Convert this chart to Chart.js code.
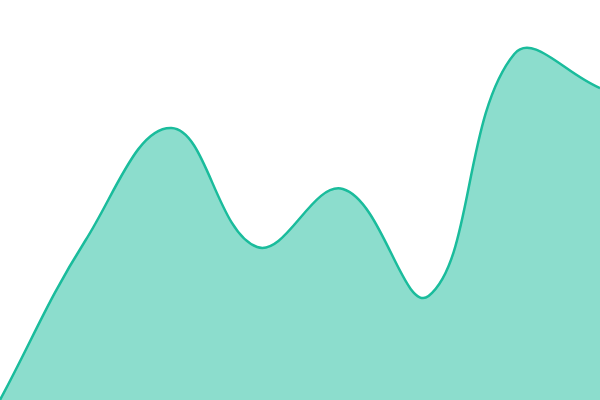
<!DOCTYPE html>
<html>
<head>
<meta charset="utf-8">
<script src="https://cdn.jsdelivr.net/npm/chart.js@4"></script>
<style>
  html, body { margin: 0; padding: 0; background: #fff; }
  #wrap { width: 600px; height: 400px; }
</style>
</head>
<body>
<div id="wrap"><canvas id="myChart"></canvas></div>
<script>
const labels = ["1", "2", "3", "4", "5", "6", "7", "8"];
const values = [0, 160, 272, 153, 211, 104, 346, 312];

const ctx = document.getElementById("myChart").getContext("2d");
const myChart = new Chart(ctx, {
  type: "line",
  data: {
    labels: labels,
    datasets: [
      {
        data: values,
        borderColor: "rgb(26, 188, 156)",
        backgroundColor: "rgba(26, 188, 156, 0.5)",
        borderWidth: 2.5,
        fill: true,
        pointRadius: 0,
        tension: 0.4,
      },
    ],
  },
  options: {
    responsive: true,
    maintainAspectRatio: false,
    animation: false,
    layout: { padding: 0 },
    plugins: { legend: { display: false }, tooltip: { enabled: false } },
    scales: {
      x: { display: false, offset: false },
      y: { display: false, min: 0, max: 400 },
    },
  },
});
</script>
</body>
</html>
